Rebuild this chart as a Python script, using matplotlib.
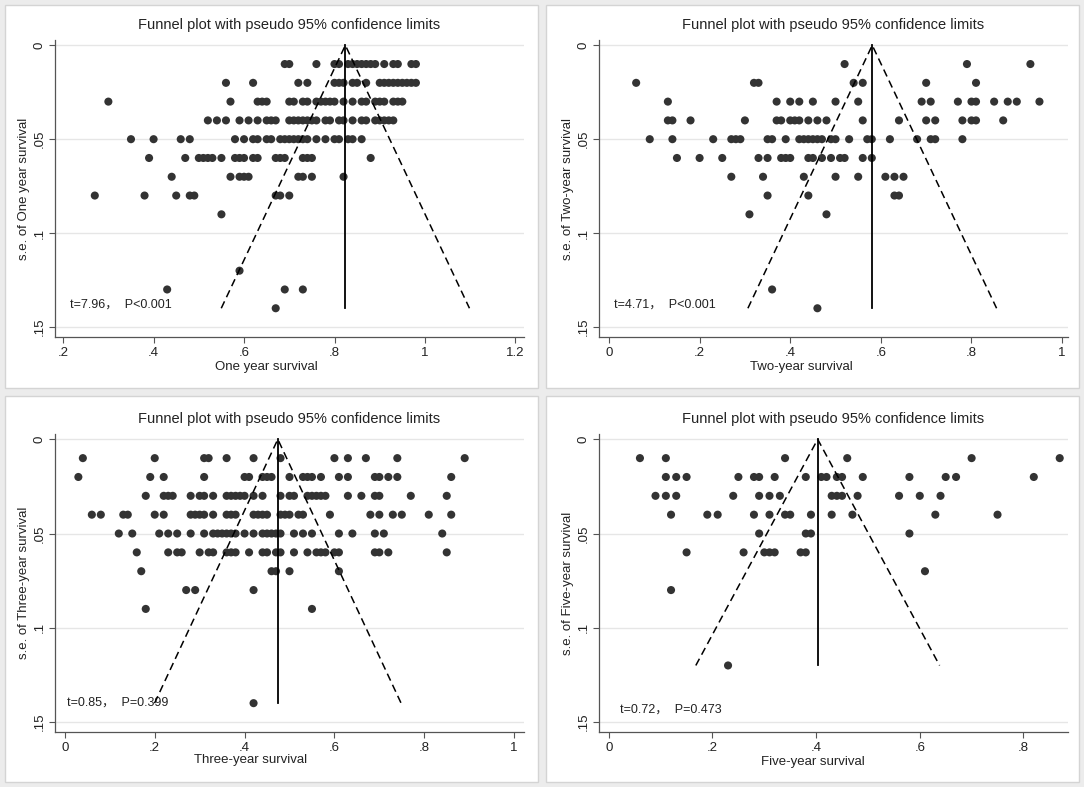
import numpy as np
import matplotlib
matplotlib.use('Agg')
import matplotlib.pyplot as plt
from matplotlib.patches import Rectangle

plt.rcParams['font.family'] = ['Liberation Sans', 'Noto Sans CJK SC', 'DejaVu Sans']

# Standardfehler-Zeilen und Effektgroessen je Zeile
one_se = [0.01, 0.02, 0.03, 0.04, 0.05, 0.06, 0.07, 0.08, 0.09, 0.12, 0.13, 0.14]
one_x = [
    [0.69, 0.70, 0.76, 0.80, 0.81, 0.83, 0.84, 0.85, 0.86, 0.87, 0.88, 0.89, 0.91, 0.93, 0.94, 0.97, 0.98],
    [0.56, 0.62, 0.72, 0.74, 0.80, 0.81, 0.82, 0.84, 0.85, 0.87, 0.90, 0.91, 0.92, 0.93, 0.94, 0.95, 0.96,
     0.97, 0.98],
    [0.30, 0.57, 0.63, 0.64, 0.65, 0.70, 0.71, 0.73, 0.74, 0.76, 0.77, 0.78, 0.79, 0.80, 0.82, 0.84, 0.86,
     0.87, 0.89, 0.90, 0.91, 0.93, 0.94, 0.95],
    [0.52, 0.54, 0.56, 0.59, 0.61, 0.63, 0.65, 0.66, 0.67, 0.70, 0.71, 0.72, 0.73, 0.74, 0.75, 0.76, 0.78,
     0.79, 0.81, 0.82, 0.84, 0.86, 0.87, 0.89, 0.90, 0.91, 0.92, 0.93],
    [0.35, 0.40, 0.46, 0.48, 0.58, 0.60, 0.62, 0.63, 0.65, 0.66, 0.68, 0.69, 0.70, 0.71, 0.72, 0.73, 0.74,
     0.76, 0.78, 0.80, 0.81, 0.83, 0.84, 0.86],
    [0.39, 0.47, 0.50, 0.51, 0.52, 0.53, 0.55, 0.58, 0.59, 0.60, 0.62, 0.63, 0.67, 0.68, 0.69, 0.73, 0.74,
     0.75, 0.88],
    [0.44, 0.57, 0.59, 0.60, 0.61, 0.72, 0.73, 0.75, 0.82],
    [0.27, 0.38, 0.45, 0.48, 0.49, 0.67, 0.68, 0.70],
    [0.55],
    [0.59],
    [0.43, 0.69, 0.73],
    [0.67],
]

two_se = [0.01, 0.02, 0.03, 0.04, 0.05, 0.06, 0.07, 0.08, 0.09, 0.13, 0.14]
two_x = [
    [0.52, 0.79, 0.93],
    [0.06, 0.32, 0.33, 0.54, 0.56, 0.70, 0.81],
    [0.13, 0.37, 0.40, 0.42, 0.45, 0.50, 0.55, 0.69, 0.71, 0.77, 0.80, 0.81, 0.85, 0.88, 0.90, 0.95],
    [0.13, 0.14, 0.18, 0.30, 0.37, 0.38, 0.40, 0.41, 0.42, 0.44, 0.46, 0.48, 0.56, 0.64, 0.70, 0.72, 0.78,
     0.80, 0.81, 0.87],
    [0.09, 0.14, 0.23, 0.27, 0.28, 0.29, 0.35, 0.36, 0.39, 0.42, 0.43, 0.44, 0.45, 0.46, 0.47, 0.49, 0.50,
     0.53, 0.57, 0.58, 0.62, 0.68, 0.71, 0.72, 0.78],
    [0.15, 0.20, 0.25, 0.33, 0.35, 0.38, 0.39, 0.40, 0.44, 0.45, 0.47, 0.49, 0.51, 0.52, 0.56, 0.58],
    [0.27, 0.34, 0.43, 0.50, 0.55, 0.61, 0.63, 0.65],
    [0.35, 0.44, 0.63, 0.64],
    [0.31, 0.48],
    [0.36],
    [0.46],
]

three_se = [0.01, 0.02, 0.03, 0.04, 0.05, 0.06, 0.07, 0.08, 0.09, 0.14]
three_x = [
    [0.04, 0.20, 0.31, 0.32, 0.36, 0.42, 0.48, 0.60, 0.63, 0.67, 0.74, 0.89],
    [0.03, 0.19, 0.22, 0.31, 0.40, 0.41, 0.44, 0.45, 0.46, 0.50, 0.53, 0.54, 0.55, 0.57, 0.61, 0.63, 0.69,
     0.70, 0.72, 0.74, 0.86],
    [0.18, 0.22, 0.23, 0.24, 0.28, 0.30, 0.31, 0.33, 0.36, 0.37, 0.38, 0.39, 0.40, 0.42, 0.44, 0.48, 0.50,
     0.51, 0.54, 0.55, 0.56, 0.57, 0.58, 0.63, 0.66, 0.69, 0.70, 0.77, 0.85],
    [0.06, 0.08, 0.13, 0.14, 0.20, 0.22, 0.28, 0.29, 0.30, 0.31, 0.33, 0.36, 0.37, 0.38, 0.42, 0.43, 0.44,
     0.45, 0.48, 0.49, 0.50, 0.52, 0.53, 0.59, 0.68, 0.70, 0.73, 0.75, 0.81, 0.86],
    [0.12, 0.15, 0.21, 0.23, 0.25, 0.28, 0.31, 0.33, 0.34, 0.35, 0.36, 0.37, 0.38, 0.40, 0.42, 0.44, 0.45,
     0.46, 0.47, 0.48, 0.51, 0.53, 0.55, 0.61, 0.64, 0.69, 0.71, 0.84],
    [0.16, 0.23, 0.25, 0.26, 0.30, 0.32, 0.33, 0.36, 0.37, 0.38, 0.41, 0.44, 0.45, 0.47, 0.48, 0.51, 0.54,
     0.56, 0.57, 0.58, 0.60, 0.61, 0.69, 0.70, 0.72, 0.85],
    [0.17, 0.46, 0.47, 0.50, 0.61],
    [0.27, 0.29, 0.42],
    [0.18, 0.55],
    [0.42],
]

five_se = [0.01, 0.02, 0.03, 0.04, 0.05, 0.06, 0.07, 0.08, 0.12]
five_x = [
    [0.06, 0.11, 0.34, 0.46, 0.70, 0.87],
    [0.11, 0.13, 0.15, 0.25, 0.28, 0.29, 0.32, 0.38, 0.41, 0.42, 0.44, 0.45, 0.49, 0.58, 0.65, 0.67, 0.82],
    [0.09, 0.11, 0.13, 0.24, 0.29, 0.31, 0.33, 0.43, 0.44, 0.45, 0.48, 0.56, 0.60, 0.64],
    [0.12, 0.19, 0.21, 0.28, 0.31, 0.34, 0.35, 0.39, 0.43, 0.47, 0.63, 0.75],
    [0.29, 0.38, 0.39, 0.58],
    [0.15, 0.26, 0.30, 0.31, 0.32, 0.37, 0.38],
    [0.61],
    [0.12],
    [0.23],
]

pooled = [0.824, 0.581, 0.474, 0.403]
max_se = [0.14, 0.14, 0.14, 0.12]
x_names = ['One year survival', 'Two-year survival', 'Three-year survival', 'Five-year survival']
y_names = ['s.e. of One year survival', 's.e. of Two-year survival',
           's.e. of Three-year survival', 's.e. of Five-year survival']
tests = ['t=7.96，  P<0.001', 't=4.71，  P<0.001', 't=0.85，  P=0.399', 't=0.72，  P=0.473']
x_ticks = [[0.2, 0.4, 0.6, 0.8, 1.0, 1.2], [0, 0.2, 0.4, 0.6, 0.8, 1.0],
           [0, 0.2, 0.4, 0.6, 0.8, 1.0], [0, 0.2, 0.4, 0.6, 0.8]]
x_limits = [(0.182, 1.219), (-0.022, 1.013), (-0.022, 1.022), (-0.019, 0.886)]
y_ticks = [0, 0.05, 0.1, 0.15]
all_se = [one_se, two_se, three_se, five_se]
all_x = [one_x, two_x, three_x, five_x]


def stata_fmt(v):
    s = '%g' % v
    if s.startswith('0.'):
        s = s[1:]
    return s


W, H = 1084, 787
fig = plt.figure(figsize=(W / 100, H / 100), dpi=100, facecolor='#ececec')

# Panelrahmen (Pixel: links, oben, rechts, unten)
panels = [(5, 5, 538, 388), (546, 5, 1079, 388), (5, 396, 538, 782), (546, 396, 1079, 782)]
# Achsenbereich (Pixel)
axboxes = [(55, 40, 524, 337), (599, 40, 1068, 337), (55, 434, 524, 732), (599, 434, 1068, 732)]
text_pos = [(0.032, 0.108), (0.032, 0.108), (0.025, 0.098), (0.045, 0.075)]
xlabel_pos = [0.45, 0.432, 0.418, 0.455]
xlabel_pad = [2.0, 2.0, 0.0, 1.5]

for k in range(4):
    l, t, r, b = panels[k]
    fig.add_artist(Rectangle((l / W, 1 - b / H), (r - l) / W, (b - t) / H,
                             transform=fig.transFigure, facecolor='white',
                             edgecolor='#d4d4d4', linewidth=1.0, zorder=-10))
    l, t, r, b = axboxes[k]
    ax = fig.add_axes([l / W, 1 - b / H, (r - l) / W, (b - t) / H])
    ax.set_facecolor('white')

    # Punkte
    xs, ys = [], []
    for se, row in zip(all_se[k], all_x[k]):
        xs.extend(row)
        ys.extend([se] * len(row))
    ax.scatter(xs, ys, s=34, color='#333333', edgecolors='none', zorder=3)

    # Trichter: Schaetzer und Pseudo-95%-Grenzen
    m, smax = pooled[k], max_se[k]
    ax.plot([m, m], [0, smax], color='black', lw=1.3, zorder=4)
    ax.plot([m - 1.96 * smax, m, m + 1.96 * smax], [smax, 0, smax],
            color='black', lw=1.1, dashes=(5, 3), zorder=4)

    ax.set_xlim(*x_limits[k])
    ax.set_ylim(0.1553, -0.0028)
    ax.set_xticks(x_ticks[k])
    ax.set_xticklabels([stata_fmt(v) for v in x_ticks[k]])
    ax.set_yticks(y_ticks)
    ax.set_yticklabels([stata_fmt(v) for v in y_ticks], rotation=90, va='center')
    ax.grid(axis='y', color='#e6e6e6', lw=1.0, zorder=0)
    ax.set_axisbelow(True)
    for side in ['top', 'right']:
        ax.spines[side].set_visible(False)
    for side in ['left', 'bottom']:
        ax.spines[side].set_color('#555555')
        ax.spines[side].set_linewidth(0.9)
    ax.tick_params(axis='both', length=4, width=0.8, color='#555555',
                   labelsize=9.5, labelcolor='#222222', pad=3)

    ax.set_title('Funnel plot with pseudo 95% confidence limits', fontsize=10.5,
                 color='#222222', pad=8)
    ax.set_xlabel(x_names[k], fontsize=9.5, color='#222222', labelpad=xlabel_pad[k],
                  x=xlabel_pos[k])
    ax.set_ylabel(y_names[k], fontsize=9.5, color='#222222', labelpad=2.5)
    ax.text(text_pos[k][0], text_pos[k][1], tests[k], transform=ax.transAxes,
            fontsize=9, color='#222222', va='center', ha='left')

fig.savefig('out.png', dpi=100, facecolor=fig.get_facecolor())
